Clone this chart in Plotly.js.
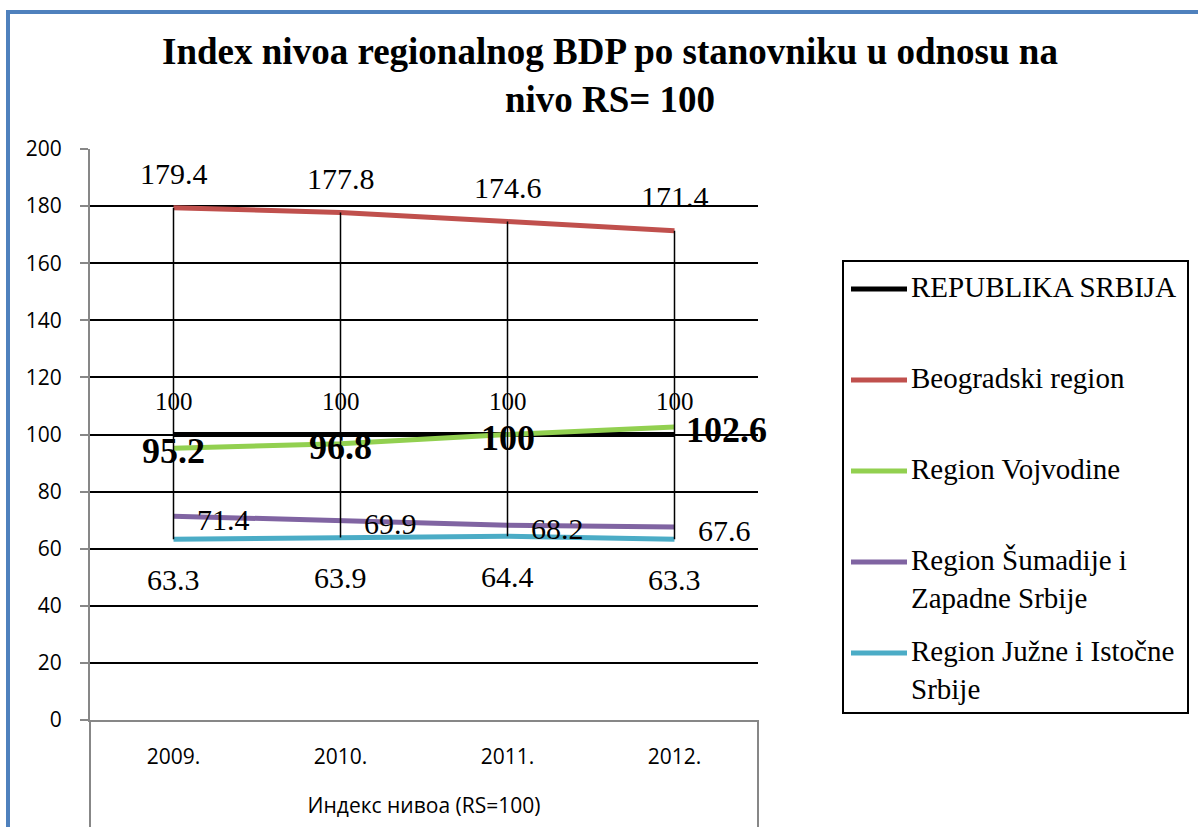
<!DOCTYPE html>
<html>
<head>
<meta charset="utf-8">
<script src="https://cdn.plot.ly/plotly-3.0.1.min.js"></script>
<style>
  html, body { margin: 0; padding: 0; background: #fff; }
  #chart { width: 1198px; height: 827px; }
</style>
</head>
<body>
<div id="chart"></div>
<script>
// ---------- data ----------
const categories = ['2009.', '2010.', '2011.', '2012.'];
const rsValues = [100, 100, 100, 100];
const beogradValues = [179.4, 177.8, 174.6, 171.4];
const vojvodinaValues = [95.2, 96.8, 100, 102.6];
const sumadijaValues = [71.4, 69.9, 68.2, 67.6];
const juznaValues = [63.3, 63.9, 64.4, 63.3];
const seriesNames = ['REPUBLIKA SRBIJA', 'Beogradski region', 'Region Vojvodine',
  'Region Šumadije i Zapadne Srbije', 'Region Južne i Istočne Srbije'];
const legendLabels = ['REPUBLIKA SRBIJA', 'Beogradski region', 'Region Vojvodine',
  'Region Šumadije i<br>Zapadne Srbije', 'Region Južne i Istočne<br>Srbije'];
const yTickVals = [0, 20, 40, 60, 80, 100, 120, 140, 160, 180, 200];
const chartTitle = 'Index nivoa regionalnog BDP po stanovniku u odnosu na<br>nivo RS= 100';
const xAxisTitle = 'Индекс нивоа (RS=100)';

// ---------- styles ----------
const allValues = [rsValues, beogradValues, vojvodinaValues, sumadijaValues, juznaValues];
const colors = ['#000000', '#C0504D', '#92D050', '#8064A2', '#4BACC6'];
const labelStyles = [
  {size: 25, bold: false, pos: ['c', 'c', 'c', 'c'], dy: 33, dx: 0},
  {size: 30, bold: false, pos: ['c', 'c', 'c', 'c'], dy: 34, dx: 0},
  {size: 36, bold: true,  pos: ['c', 'c', 'c', 'r'], dy: -3, dx: 9},
  {size: 30, bold: false, pos: ['r', 'r', 'r', 'r'], dy: -3, dx: 21},
  {size: 30, bold: false, pos: ['c', 'c', 'c', 'c'], dy: -40, dx: 0}
];
const serif = 'Liberation Serif, Times New Roman, serif';
const sans = 'Open Sans, Noto Sans, sans-serif';

// layout geometry (px)
const W = 1198, H = 827;
const M = {l: 90, r: 440, t: 149, b: 107};
const PW = W - M.l - M.r, PH = H - M.t - M.b;
const px = x => (x - M.l) / PW;
const py = y => (H - M.b - y) / PH;

// ---------- traces ----------
const traces = allValues.map((vals, i) => ({
  type: 'scatter', mode: 'lines', x: categories, y: vals, name: seriesNames[i],
  line: {color: colors[i], width: 5}, showlegend: false, hoverinfo: 'x+y+name'
}));

// high-low lines
const hlX = [], hlY = [];
categories.forEach((c, j) => {
  const col = allValues.map(v => v[j]);
  hlX.push(c, c, null);
  hlY.push(Math.max(...col), Math.min(...col), null);
});
traces.push({type: 'scatter', mode: 'lines', x: hlX, y: hlY, connectgaps: false,
  line: {color: '#000', width: 1.5}, showlegend: false, hoverinfo: 'skip'});

// ---------- annotations (data labels + legend text) ----------
const annotations = [];
allValues.forEach((vals, i) => {
  const st = labelStyles[i];
  vals.forEach((v, j) => {
    const right = st.pos[j] === 'r';
    const txt = st.bold ? '<b>' + String(v) + '</b>' : String(v);
    annotations.push({
      x: j, y: v, xref: 'x', yref: 'y', showarrow: false,
      text: txt, xanchor: right ? 'left' : 'center', yanchor: 'middle',
      xshift: right ? st.dx : 0, yshift: st.dy,
      font: {family: serif, size: st.size, color: '#000'}
    });
  });
});

// legend (manual)
const shapes = [];
const legTop = 261, legBottom = 713, legLeft = 843, legRight = 1188;
shapes.push({type: 'rect', xref: 'paper', yref: 'paper',
  x0: px(legLeft), x1: px(legRight), y0: py(legTop), y1: py(legBottom),
  line: {color: '#000', width: 2}, fillcolor: 'rgba(0,0,0,0)'});
legendLabels.forEach((lab, i) => {
  const cy = 289 + i * 91;
  shapes.push({type: 'line', xref: 'paper', yref: 'paper',
    x0: px(851), x1: px(907), y0: py(cy), y1: py(cy),
    line: {color: colors[i], width: 5}});
  annotations.push({xref: 'paper', yref: 'paper', x: px(909), y: py(cy - 20),
    xanchor: 'left', yanchor: 'top', align: 'left', showarrow: false, text: lab,
    font: {family: serif, size: 29, color: '#000'}});
});

// axis extensions below the plot (category label frame)
shapes.push({type: 'line', xref: 'paper', yref: 'paper', x0: 0, x1: 0, y0: 0, y1: py(H + 5),
  line: {color: '#878787', width: 2}});
shapes.push({type: 'line', xref: 'paper', yref: 'paper', x0: 1, x1: 1, y0: 0, y1: py(H + 5),
  line: {color: '#878787', width: 2}});

// blue outer frame
shapes.push({type: 'line', xref: 'paper', yref: 'paper', x0: px(6), x1: px(W + 5), y0: py(12), y1: py(12),
  line: {color: '#4F81BD', width: 4}});
shapes.push({type: 'line', xref: 'paper', yref: 'paper', x0: px(8), x1: px(8), y0: py(10), y1: py(H + 5),
  line: {color: '#4F81BD', width: 4}});

// ---------- layout ----------
const layout = {
  width: W, height: H,
  margin: M,
  paper_bgcolor: '#fff', plot_bgcolor: '#fff',
  showlegend: false,
  title: {
    text: chartTitle, xref: 'container', yref: 'container',
    x: 610 / W, xanchor: 'center', y: 1 - 64 / H, yanchor: 'top',
    font: {family: serif, size: 37, color: '#000', weight: 'bold'}
  },
  xaxis: {
    type: 'category', range: [-0.5, categories.length - 0.5],
    showgrid: false, zeroline: false, showline: true, linecolor: '#878787', linewidth: 2,
    ticks: '', ticklabelstandoff: 17, automargin: false,
    tickfont: {family: sans, size: 21, color: '#000'},
    title: {text: xAxisTitle, standoff: 29, font: {family: sans, size: 21, color: '#000'}}
  },
  yaxis: {
    range: [0, 200], tickmode: 'array', tickvals: yTickVals,
    showgrid: true, gridcolor: '#000', gridwidth: 2, zeroline: false,
    showline: true, linecolor: '#878787', linewidth: 2,
    ticks: 'outside', ticklen: 8, tickwidth: 2, tickcolor: '#878787',
    ticklabelstandoff: 14, automargin: false,
    tickfont: {family: sans, size: 21, color: '#000'}
  },
  annotations: annotations,
  shapes: shapes
};

Plotly.newPlot('chart', traces, layout, {displayModeBar: false, staticPlot: true});
</script>
</body>
</html>
